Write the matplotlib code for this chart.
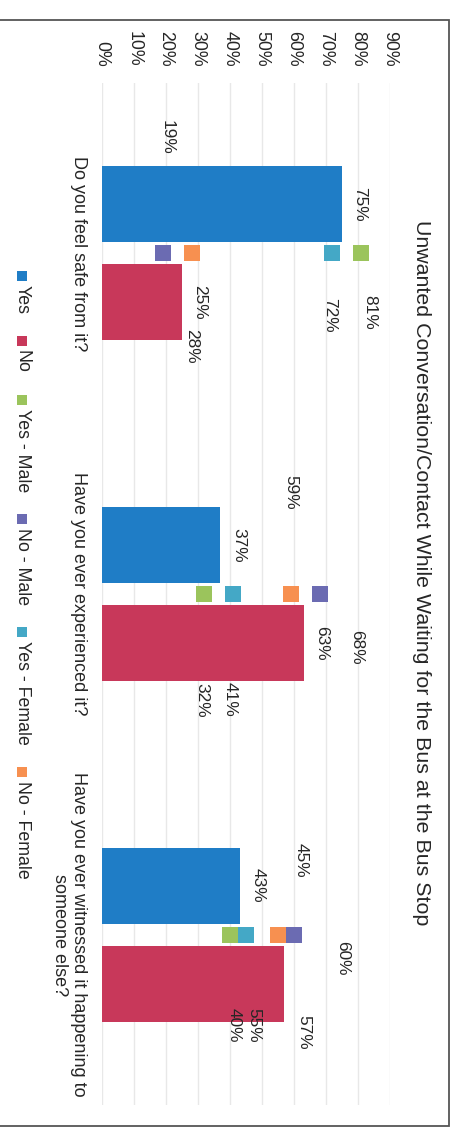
import matplotlib
matplotlib.use("Agg")
import matplotlib.pyplot as plt
from matplotlib.patches import Rectangle

plt.rcParams['font.family'] = ['Liberation Sans', 'DejaVu Sans']

# ---------------- data ----------------
categories = ["Do you feel safe from it?",
              "Have you ever experienced it?",
              "Have you ever witnessed it happening to\nsomeone else?"]
yes = [0.75, 0.37, 0.43]
no = [0.25, 0.63, 0.57]
yes_male = [0.81, 0.32, 0.40]
no_male = [0.19, 0.68, 0.60]
yes_female = [0.72, 0.41, 0.45]
no_female = [0.28, 0.59, 0.55]
tick_values = [0.0, 0.1, 0.2, 0.3, 0.4, 0.5, 0.6, 0.7, 0.8, 0.9]
tick_labels = ["0%", "10%", "20%", "30%", "40%", "50%", "60%", "70%", "80%", "90%"]
title = "Unwanted Conversation/Contact While Waiting for the Bus at the Bus Stop"
legend_labels = ["Yes", "No", "Yes - Male", "No - Male", "Yes - Female", "No - Female"]

# ---------------- style / layout ----------------
C_YES = "#1F7DC6"
C_NO = "#C8385A"
C_YM = "#9BC45C"
C_NM = "#6B6BB2"
C_YF = "#44A8C6"
C_NF = "#F79050"
TXT = "#262626"

W, H = 457, 1134
fig = plt.figure(figsize=(W / 100, H / 100), dpi=100)
fig.patch.set_facecolor("white")

# plot area in image pixels
px_l, px_r, px_t, px_b = 102, 390, 83, 1105
ax = fig.add_axes([px_l / W, 1 - px_b / H, (px_r - px_l) / W, (px_b - px_t) / H])
ax.set_xlim(0, 0.9)
ax.set_ylim(2.5, -0.5)

pos = list(range(len(categories)))
bar_h = 0.223
off = 0.144

ax.barh([p - off for p in pos], yes, height=bar_h, color=C_YES, zorder=2)
ax.barh([p + off for p in pos], no, height=bar_h, color=C_NO, zorder=2)

msize = 11.5
series = [(yes_male, C_YM), (no_male, C_NM), (yes_female, C_YF), (no_female, C_NF)]
for vals, col in series:
    ax.plot(vals, pos, linestyle="none", marker="s", markersize=msize,
            color=col, markeredgewidth=0, zorder=3)

# gridlines / axes
ax.grid(axis="x", color="#E8E8E8", linewidth=1.0, zorder=0)
ax.set_axisbelow(True)
for s in ax.spines.values():
    s.set_visible(False)
ax.xaxis.tick_top()
ax.set_xticks(tick_values)
ax.set_xticklabels(tick_labels, rotation=270, fontsize=12.8, color=TXT, va="bottom", ha="center")
ax.tick_params(axis="x", length=0, pad=11.5)
ax.set_yticks(pos)
ax.set_yticklabels(categories, rotation=270, fontsize=13, color=TXT,
                   ha="right", va="center", multialignment="center")
ax.tick_params(axis="y", length=0, pad=10.5)

lab_kw = dict(textcoords="offset pixels", rotation=270, ha="center", va="center",
              fontsize=12.4, color=TXT, zorder=5)

def pct(v):
    return f"{round(v * 100)}%"

# bar labels (dx, dy in image pixels, dy downward)
yes_lab_off = [(18, 0), (18, 0), (19, 0)]
no_lab_off = [(18, 0), (18, 0), (19, 49)]
for i, v in enumerate(yes):
    dx, dy = yes_lab_off[i]
    ax.annotate(pct(v), (v, pos[i] - off), xytext=(dx, -dy), **lab_kw)
for i, v in enumerate(no):
    dx, dy = no_lab_off[i]
    ax.annotate(pct(v), (v, pos[i] + off), xytext=(dx, -dy), **lab_kw)

# marker labels
marker_lab_off = [
    [(9, 59), (-3, 106), (4, 91)],     # yes male
    [(4, -116), (37, 53), (49, 24)],   # no male
    [(-3, 62), (-3, 105), (55, -74)],  # yes female
    [(0, 93), (0, -102), (-24, 91)],   # no female
]
for (vals, _), offs in zip(series, marker_lab_off):
    for i, v in enumerate(vals):
        dx, dy = offs[i]
        ax.annotate(pct(v), (v, pos[i]), xytext=(dx, -dy), **lab_kw)

# title
fig.text(421 / W, 1 - 573 / H, title, rotation=270, ha="center", va="center",
         fontsize=15.4, color="#262626")

# legend (manual, rotated)
leg_colors = [C_YES, C_NO, C_YM, C_NM, C_YF, C_NF]
fig.canvas.draw()
renderer = fig.canvas.get_renderer()
sq = 10
gap_sq_txt = 4
gap_entry = 22
leg_x = 22
texts = []
widths = []
for lab in legend_labels:
    t = fig.text(0, 0, lab, rotation=270, ha="center", va="top", fontsize=12.8, color=TXT)
    bb = t.get_window_extent(renderer)
    widths.append(bb.height)
    texts.append(t)
total = sum(sq + gap_sq_txt + w for w in widths) + gap_entry * (len(widths) - 1)
y = 575 - total / 2
for t, w, col in zip(texts, widths, leg_colors):
    fig.add_artist(Rectangle(((leg_x - sq / 2) / W, 1 - (y + sq) / H), sq / W, sq / H,
                             transform=fig.transFigure, color=col, linewidth=0))
    y += sq + gap_sq_txt
    t.set_position((leg_x / W, 1 - y / H))
    y += w + gap_entry

# chart frame
fx0, fx1, fy0, fy1 = -5, 449, 20, 1126
fig.add_artist(Rectangle((fx0 / W, 1 - fy1 / H), (fx1 - fx0) / W, (fy1 - fy0) / H,
                         transform=fig.transFigure, fill=False, edgecolor="#555555",
                         linewidth=1.3))

fig.savefig("out.png", dpi=100, facecolor="white")
